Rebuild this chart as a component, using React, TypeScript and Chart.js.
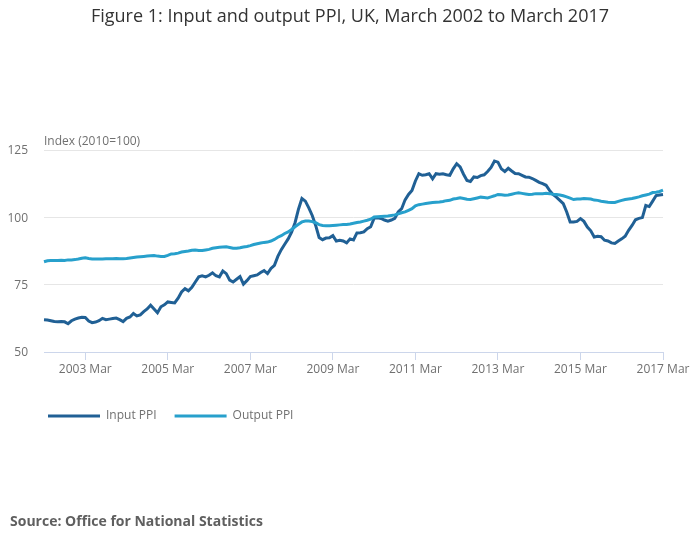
import React, { useEffect, useRef } from "react";
import { Chart, registerables } from "chart.js";

Chart.register(...registerables);

const TITLE = "Figure 1: Input and output PPI, UK, March 2002 to March 2017";
const AXIS_CAPTION = "Index (2010=100)";
const SOURCE = "Source: Office for National Statistics";

const MONTHS = ["Jan", "Feb", "Mar", "Apr", "May", "Jun", "Jul", "Aug", "Sep", "Oct", "Nov", "Dec"];
const START_YEAR = 2002;
const START_MONTH = 2; // March (0-based)
const MONTH_COUNT = 181;

// Category labels: March 2002 .. March 2017, monthly
const categories: string[] = Array.from({ length: MONTH_COUNT }, (_, i) => {
  const m = START_MONTH + i;
  return `${START_YEAR + Math.floor(m / 12)} ${MONTHS[m % 12]}`;
});

const yTicks = [50, 75, 100, 125];

// Input PPI (2010=100), monthly from March 2002
const inputPPI = [
  62.0, 61.9, 61.6, 61.3, 61.2, 61.3, 61.2, 60.5, 61.6, 62.2, 62.6, 62.9,
  62.8, 61.5, 60.9, 61.1, 61.6, 62.5, 62.0, 62.2, 62.4, 62.6, 62.0, 61.3,
  62.5, 63.0, 64.3, 63.4, 63.8, 65.0, 66.0, 67.4, 66.0, 64.6, 66.8, 67.5,
  68.6, 68.4, 68.2, 70.0, 72.3, 73.5, 72.7, 74.0, 76.0, 77.9, 78.3, 77.9,
  78.5, 79.4, 78.3, 77.9, 80.1, 79.1, 76.7, 76.0, 77.0, 78.0, 75.2, 76.5,
  78.0, 78.3, 78.6, 79.5, 80.2, 79.1, 81.0, 82.2, 85.5, 88.0, 90.0, 92.0,
  94.5, 98.0, 103.0, 107.0, 106.0, 103.5, 100.7, 97.0, 92.5, 91.7, 92.3, 92.4,
  93.2, 91.2, 91.5, 91.2, 90.5, 92.0, 91.6, 94.2, 94.3, 94.6, 95.8, 96.5,
  99.7, 99.8, 99.6, 99.0, 98.6, 99.0, 99.6, 102.0, 103.2, 106.5, 108.5, 110.0,
  113.5, 116.2, 115.6, 115.8, 116.2, 114.3, 116.2, 116.0, 116.2, 115.8, 115.6, 118.0,
  119.9, 118.7, 116.0, 113.7, 113.3, 115.0, 114.8, 115.5, 115.8, 117.0, 118.5, 120.9,
  120.5, 118.0, 117.0, 118.2, 117.2, 116.3, 116.2, 115.6, 115.0, 114.9, 114.4, 113.7,
  113.0, 112.5, 111.9, 110.0, 108.5, 107.5, 106.3, 105.1, 102.0, 98.3, 98.3, 98.5,
  99.5, 98.5, 96.4, 95.0, 92.7, 93.0, 92.8, 91.5, 91.2, 90.5, 90.3, 91.2,
  92.0, 93.0, 95.2, 97.0, 99.1, 99.6, 99.9, 104.4, 104.0, 106.0, 108.1, 108.3,
  108.5,
];

// Output PPI (2010=100), monthly from March 2002
const outputPPI = [
  83.5, 83.9, 84.0, 84.0, 84.0, 84.1, 84.0, 84.2, 84.2, 84.3, 84.5, 84.8,
  85.0, 84.7, 84.5, 84.5, 84.5, 84.5, 84.6, 84.6, 84.6, 84.7, 84.6, 84.6,
  84.7, 84.9, 85.1, 85.3, 85.4, 85.5, 85.6, 85.7, 85.8, 85.6, 85.5, 85.5,
  85.9, 86.4, 86.5, 86.7, 87.1, 87.3, 87.5, 87.8, 87.9, 87.7, 87.7, 87.9,
  88.1, 88.5, 88.7, 88.9, 89.0, 89.1, 88.8, 88.5, 88.5, 88.7, 89.0, 89.2,
  89.5, 89.9, 90.2, 90.5, 90.7, 90.8, 91.2, 91.8, 92.6, 93.2, 94.0, 94.6,
  95.5, 96.5, 97.4, 98.3, 98.6, 98.6, 98.4, 98.0, 97.3, 97.0, 96.9, 96.9,
  97.0, 97.1, 97.2, 97.3, 97.3, 97.5, 97.8, 98.1, 98.3, 98.6, 98.9, 99.3,
  100.1, 100.2, 100.3, 100.4, 100.5, 100.7, 100.9, 101.3, 101.7, 102.0, 102.6, 103.2,
  104.3, 104.7, 104.9, 105.1, 105.3, 105.5, 105.6, 105.7, 105.9, 106.2, 106.3, 106.8,
  107.0, 107.3, 107.0, 106.7, 106.6, 106.9, 107.2, 107.5, 107.4, 107.2, 107.6, 108.0,
  108.5, 108.4, 108.2, 108.3, 108.6, 108.9, 109.1, 108.9, 108.7, 108.5, 108.6, 108.8,
  108.8, 108.8, 108.9, 108.8, 108.6, 108.5, 108.3, 108.0, 107.6, 107.1, 106.6, 106.8,
  106.8, 107.0, 106.9, 106.8, 106.4, 106.3, 106.0, 105.8, 105.6, 105.5, 105.5, 105.9,
  106.3, 106.6, 106.8, 107.0, 107.3, 107.6, 108.0, 108.3, 108.6, 109.2, 109.3, 109.6,
  110.1,
];

const seriesNames = ["Input PPI", "Output PPI"];
const seriesColors = ["#206095", "#27a0cc"];

const FONT = "'Open Sans', 'Noto Sans', sans-serif";
const TEXT_GRAY = "#707070";

const decorPlugin = {
  id: "decor",
  afterDraw(chart: any) {
    const ctx = chart.ctx as CanvasRenderingContext2D;
    const area = chart.chartArea;
    ctx.save();
    // Title
    ctx.fillStyle = "#333333";
    ctx.font = `18px ${FONT}`;
    ctx.textAlign = "center";
    ctx.textBaseline = "middle";
    ctx.fillText(TITLE, 350, 17);
    // Axis caption
    ctx.fillStyle = TEXT_GRAY;
    ctx.font = `12px ${FONT}`;
    ctx.textAlign = "left";
    ctx.fillText(AXIS_CAPTION, area.left, 142);
    // Legend
    let x = 48;
    const ly = 416;
    chart.data.datasets.forEach((ds: any) => {
      ctx.strokeStyle = ds.borderColor;
      ctx.lineWidth = 3;
      ctx.beginPath();
      ctx.moveTo(x, ly);
      ctx.lineTo(x + 52, ly);
      ctx.stroke();
      ctx.fillStyle = TEXT_GRAY;
      ctx.font = `12px ${FONT}`;
      ctx.textAlign = "left";
      ctx.fillText(ds.label, x + 58, ly);
      x += 58 + ctx.measureText(ds.label).width + 18;
    });
    // Source
    ctx.fillStyle = "#5f5f5f";
    ctx.font = `bold 14px ${FONT}`;
    ctx.fillText(SOURCE, 10, 522);
    ctx.restore();
  },
};

export default function App() {
  const ref = useRef<HTMLCanvasElement | null>(null);

  useEffect(() => {
    if (!ref.current) return;
    const chart = new Chart(ref.current, {
      type: "line",
      data: {
        labels: categories,
        datasets: [
          {
            label: seriesNames[0],
            data: inputPPI,
            borderColor: seriesColors[0],
            backgroundColor: seriesColors[0],
            borderWidth: 3,
            pointRadius: 0,
            tension: 0,
            order: 1,
          },
          {
            label: seriesNames[1],
            data: outputPPI,
            borderColor: seriesColors[1],
            backgroundColor: seriesColors[1],
            borderWidth: 3,
            pointRadius: 0,
            tension: 0,
            order: 0,
          },
        ],
      },
      options: {
        responsive: false,
        animation: false,
        layout: { padding: { top: 150, right: 37, bottom: 167, left: 0 } },
        plugins: {
          legend: { display: false },
          title: { display: false },
          tooltip: { enabled: false },
        },
        scales: {
          x: {
            type: "category",
            offset: false,
            grid: {
              display: true,
              drawOnChartArea: false,
              drawTicks: true,
              tickLength: 8,
              color: "#ccd6eb",
            },
            border: { display: true, color: "#ccd6eb" },
            ticks: {
              autoSkip: false,
              maxRotation: 0,
              padding: 2,
              color: TEXT_GRAY,
              font: { family: FONT, size: 12 },
            },
            afterBuildTicks: (scale: any) => {
              scale.ticks = scale.ticks.filter((t: any) => (t.value - 12) % 24 === 0);
            },
            afterFit: (scale: any) => {
              scale.height = 30;
            },
          },
          y: {
            min: yTicks[0],
            max: yTicks[yTicks.length - 1],
            grid: { color: "#e6e6e6", drawTicks: false },
            border: { display: false },
            ticks: {
              stepSize: 25,
              padding: 16,
              labelOffset: 1,
              color: TEXT_GRAY,
              font: { family: FONT, size: 12 },
            },
            afterBuildTicks: (scale: any) => {
              scale.ticks = yTicks.map((v) => ({ value: v }));
            },
            afterFit: (scale: any) => {
              scale.width = 44;
            },
          },
        },
      },
      plugins: [decorPlugin],
    });
    return () => chart.destroy();
  }, []);

  return (
    <div style={{ position: "absolute", left: 0, top: 0, width: 700, height: 549, background: "#fff" }}>
      <canvas ref={ref} width={700} height={549} />
    </div>
  );
}
